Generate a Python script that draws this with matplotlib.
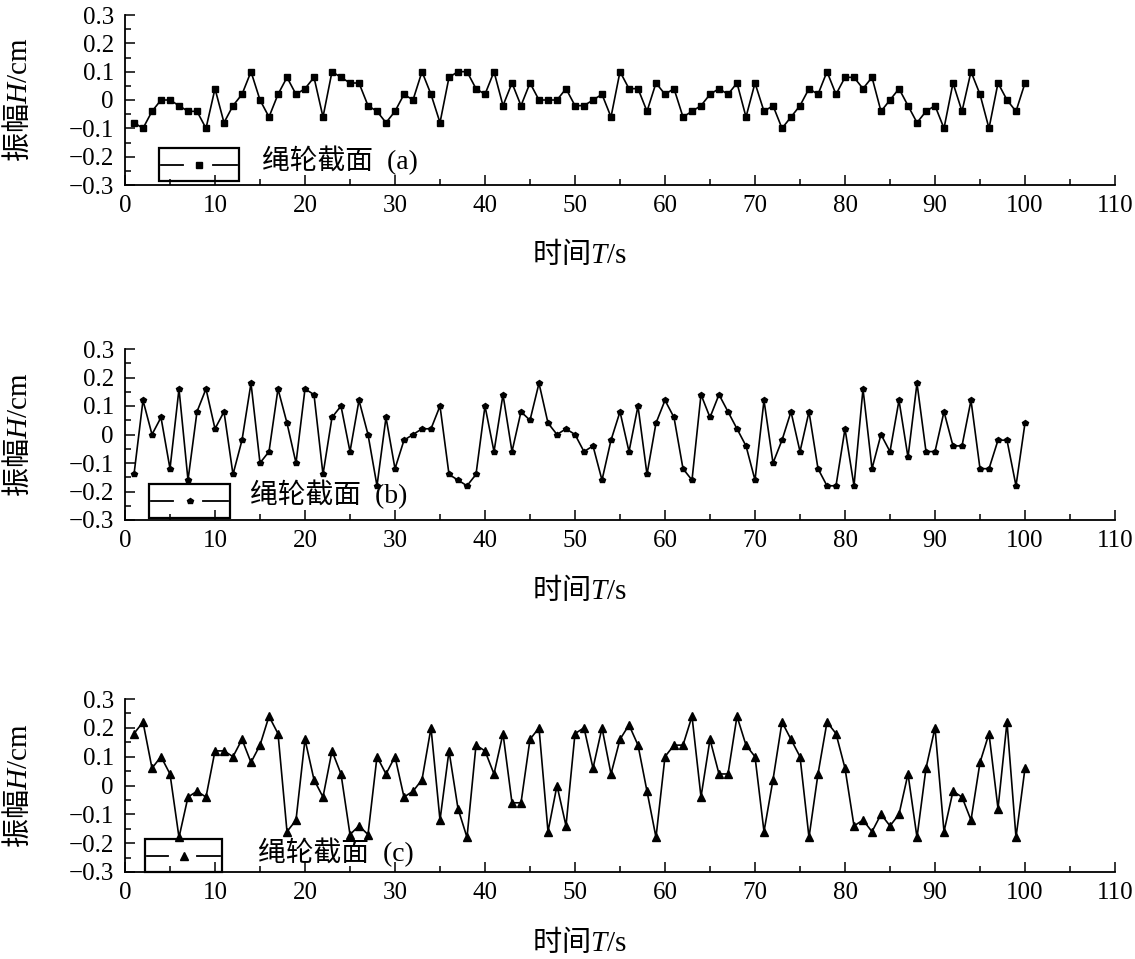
import matplotlib
matplotlib.use("Agg")
import matplotlib.pyplot as plt
from matplotlib.lines import Line2D
from matplotlib.patches import Rectangle
from matplotlib.ticker import MultipleLocator, FixedLocator

plt.rcParams['font.family'] = ['Liberation Serif', 'Noto Sans CJK SC']
plt.rcParams['mathtext.fontset'] = 'custom'
plt.rcParams['mathtext.rm'] = 'Liberation Serif'
plt.rcParams['mathtext.it'] = 'Liberation Serif:italic'
plt.rcParams['axes.unicode_minus'] = True

time_s = list(range(1, 101))

amp_a = [-0.08, -0.10, -0.04, 0.00, 0.00, -0.02, -0.04, -0.04, -0.10, 0.04,
         -0.08, -0.02, 0.02, 0.10, 0.00, -0.06, 0.02, 0.08, 0.02, 0.04,
         0.08, -0.06, 0.10, 0.08, 0.06, 0.06, -0.02, -0.04, -0.08, -0.04,
         0.02, 0.00, 0.10, 0.02, -0.08, 0.08, 0.10, 0.10, 0.04, 0.02,
         0.10, -0.02, 0.06, -0.02, 0.06, 0.00, 0.00, 0.00, 0.04, -0.02,
         -0.02, 0.00, 0.02, -0.06, 0.10, 0.04, 0.04, -0.04, 0.06, 0.02,
         0.04, -0.06, -0.04, -0.02, 0.02, 0.04, 0.02, 0.06, -0.06, 0.06,
         -0.04, -0.02, -0.10, -0.06, -0.02, 0.04, 0.02, 0.10, 0.02, 0.08,
         0.08, 0.04, 0.08, -0.04, 0.00, 0.04, -0.02, -0.08, -0.04, -0.02,
         -0.10, 0.06, -0.04, 0.10, 0.02, -0.10, 0.06, 0.00, -0.04, 0.06]

amp_b = [-0.14, 0.12, 0.00, 0.06, -0.12, 0.16, -0.16, 0.08, 0.16, 0.02,
         0.08, -0.14, -0.02, 0.18, -0.10, -0.06, 0.16, 0.04, -0.10, 0.16,
         0.14, -0.14, 0.06, 0.10, -0.06, 0.12, 0.00, -0.18, 0.06, -0.12,
         -0.02, 0.00, 0.02, 0.02, 0.10, -0.14, -0.16, -0.18, -0.14, 0.10,
         -0.06, 0.14, -0.06, 0.08, 0.05, 0.18, 0.04, 0.00, 0.02, 0.00,
         -0.06, -0.04, -0.16, -0.02, 0.08, -0.06, 0.10, -0.14, 0.04, 0.12,
         0.06, -0.12, -0.16, 0.14, 0.06, 0.14, 0.08, 0.02, -0.04, -0.16,
         0.12, -0.10, -0.02, 0.08, -0.06, 0.08, -0.12, -0.18, -0.18, 0.02,
         -0.18, 0.16, -0.12, 0.00, -0.06, 0.12, -0.08, 0.18, -0.06, -0.06,
         0.08, -0.04, -0.04, 0.12, -0.12, -0.12, -0.02, -0.02, -0.18, 0.04]

amp_c = [0.18, 0.22, 0.06, 0.10, 0.04, -0.18, -0.04, -0.02, -0.04, 0.12,
         0.12, 0.10, 0.16, 0.08, 0.14, 0.24, 0.18, -0.16, -0.12, 0.16,
         0.02, -0.04, 0.12, 0.04, -0.17, -0.14, -0.17, 0.10, 0.04, 0.10,
         -0.04, -0.02, 0.02, 0.20, -0.12, 0.12, -0.08, -0.18, 0.14, 0.12,
         0.04, 0.18, -0.06, -0.06, 0.16, 0.20, -0.16, 0.00, -0.14, 0.18,
         0.20, 0.06, 0.20, 0.04, 0.16, 0.21, 0.14, -0.02, -0.18, 0.10,
         0.14, 0.14, 0.24, -0.04, 0.16, 0.04, 0.04, 0.24, 0.14, 0.10,
         -0.16, 0.02, 0.22, 0.16, 0.10, -0.18, 0.04, 0.22, 0.18, 0.06,
         -0.14, -0.12, -0.16, -0.10, -0.14, -0.10, 0.04, -0.18, 0.06, 0.20,
         -0.16, -0.02, -0.04, -0.12, 0.08, 0.18, -0.08, 0.22, -0.18, 0.06]

legend_label = '绳轮截面'
panel_tags = ['(a)', '(b)', '(c)']
xlabel = '时间$\\mathit{T}\\mathrm{/s}$'
ylabel = '振幅$\\mathit{H}\\mathrm{/cm}$'
xticks = [0, 10, 20, 30, 40, 50, 60, 70, 80, 90, 100, 110]
yticks = [-0.3, -0.2, -0.1, 0, 0.1, 0.2, 0.3]
ytick_labels = ['\u22120.3', '\u22120.2', '\u22120.1', '0', '0.1', '0.2', '0.3']

W, H = 1135, 959
fig = plt.figure(figsize=(W / 100, H / 100), dpi=100)

panels = [
    dict(data=amp_a, top=15, bot=185, marker='s', ms=5.0,
         box=(159, 239, 148, 181), text=(262, 160)),
    dict(data=amp_b, top=349, bot=520, marker='p', ms=4.4,
         box=(149, 230, 484, 518), text=(250, 494)),
    dict(data=amp_c, top=699, bot=872, marker='^', ms=5.8,
         box=(145, 222, 839, 872), text=(258, 852)),
]
x0px, x1px = 125, 1115
cjk = 'Noto Sans CJK SC'

for p, tag in zip(panels, panel_tags):
    ax = fig.add_axes([x0px / W, 1 - p['bot'] / H, (x1px - x0px) / W,
                       (p['bot'] - p['top']) / H])
    ax.plot(time_s, p['data'], color='black', lw=1.2, marker=p['marker'],
            ms=p['ms'], mfc='black', mec='black', clip_on=False)
    ax.set_xlim(0, 110)
    ax.set_ylim(-0.3, 0.3)
    for s in ['top', 'right']:
        ax.spines[s].set_visible(False)
    for s in ['left', 'bottom']:
        ax.spines[s].set_linewidth(1.3)
    ax.xaxis.set_major_locator(FixedLocator(xticks))
    ax.xaxis.set_minor_locator(MultipleLocator(5))
    ax.set_yticks(yticks)
    ax.set_yticklabels(ytick_labels)
    ax.yaxis.set_minor_locator(MultipleLocator(0.05))
    ax.tick_params(which='both', direction='in', width=1.1, labelsize=18)
    ax.tick_params(which='major', length=7)
    ax.tick_params(which='minor', length=4.5)
    ax.tick_params(axis='y', which='major', pad=8)
    ax.tick_params(axis='x', which='major', pad=7)

    ax.set_xlabel(xlabel, fontsize=21, family=cjk)
    ax.xaxis.set_label_coords(50.5 / 110, -0.41)
    ax.xaxis.label.set_verticalalignment('center')
    ax.set_ylabel(ylabel, fontsize=21, family=cjk)
    ax.yaxis.set_label_coords((19 - x0px) / (x1px - x0px), 0.5)
    ax.yaxis.label.set_verticalalignment('center')

    hpx = p['bot'] - p['top']
    def fx(px):
        return (px - x0px) / (x1px - x0px)
    def fy(py):
        return (p['bot'] - py) / hpx
    bx0, bx1, by0, by1 = p['box']
    ax.add_patch(Rectangle((fx(bx0), fy(by1)), fx(bx1) - fx(bx0), fy(by0) - fy(by1),
                           transform=ax.transAxes, fill=False, ec='black', lw=1.6,
                           clip_on=False))
    ymid = (fy(by0) + fy(by1)) / 2
    w = bx1 - bx0
    ax.add_line(Line2D([fx(bx0 + 2), fx(bx0 + 0.3 * w)], [ymid, ymid],
                       transform=ax.transAxes, color='black', lw=1.3, clip_on=False))
    ax.add_line(Line2D([fx(bx1 - 0.33 * w), fx(bx1 - 2)], [ymid, ymid],
                       transform=ax.transAxes, color='black', lw=1.3, clip_on=False))
    ax.add_line(Line2D([fx((bx0 + bx1) / 2)], [ymid], transform=ax.transAxes,
                       marker=p['marker'], ms=p['ms'], color='black', ls='none',
                       clip_on=False))
    tx, ty = p['text']
    ax.text(fx(tx), fy(ty), legend_label + '  ' + tag, transform=ax.transAxes,
            fontsize=20, va='center', ha='left')

fig.savefig('out.png', dpi=100)
